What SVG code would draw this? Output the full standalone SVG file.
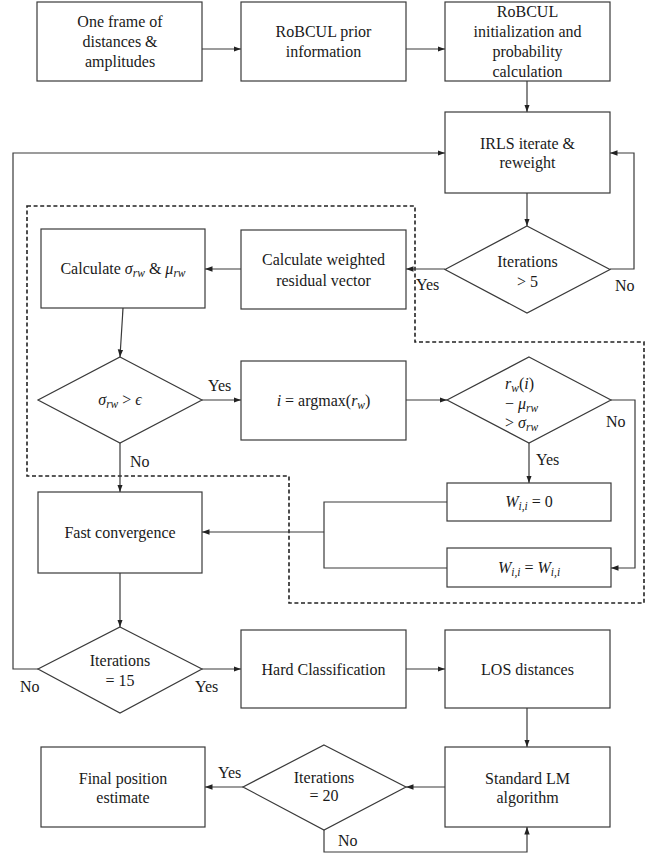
<svg xmlns="http://www.w3.org/2000/svg" width="656" height="855" viewBox="0 0 656 855" font-family="'Liberation Serif', 'Times New Roman', 'DejaVu Serif', serif">
<style>
.box{fill:#fff;stroke:#3a3a3a;stroke-width:1.2}
.c{fill:none;stroke:#3a3a3a;stroke-width:1.2}
.ca{fill:none;stroke:#3a3a3a;stroke-width:1.2;marker-end:url(#ah)}
.dash{fill:none;stroke:#222;stroke-width:1.6;stroke-dasharray:4 2.6}
text{font-family:'Liberation Serif','Times New Roman','DejaVu Serif',serif;font-size:16px;fill:#1a1a1a}
.m{text-anchor:middle}
.i{font-style:italic}
.sub{font-size:11.5px;font-style:italic}
</style>
<defs>
<marker id="ah" markerUnits="userSpaceOnUse" markerWidth="8" markerHeight="8" viewBox="0 0 8 8" refX="7.5" refY="4" orient="auto">
<path d="M0,1.3 L7.5,4 L0,6.7 Z" fill="#222"/>
</marker>
</defs>
<rect width="656" height="855" fill="#fff"/>

<path class="dash" d="M27,206 H415 V342 H644 V603 H289 V476 H27 Z"/>

<g id="connectors">
<path class="ca" d="M202,49 H241"/>
<path class="ca" d="M406,49 H445"/>
<path class="ca" d="M527,81 V112"/>
<path class="ca" d="M527,193 V226"/>
<path class="ca" d="M610,269 H634 V153 H610"/>
<path class="ca" d="M445,269 H406"/>
<path class="ca" d="M241,269 H205"/>
<path class="ca" d="M123,308 L120,357"/>
<path class="ca" d="M202,400 H241"/>
<path class="ca" d="M406,400 H447"/>
<path class="ca" d="M611,400 H635 V568 H611"/>
<path class="ca" d="M529,443 V483"/>
<path class="c" d="M447,502 H324 V568 H447"/>
<path class="ca" d="M324,532 H202"/>
<path class="ca" d="M120,443 V492"/>
<path class="ca" d="M120,573 V627"/>
<path class="ca" d="M38,669 H13 V153 H445"/>
<path class="ca" d="M202,669 H241"/>
<path class="ca" d="M406,669 H445"/>
<path class="ca" d="M527,708 V747"/>
<path class="ca" d="M445,787 H406"/>
<path class="ca" d="M243,787 H205"/>
<path class="ca" d="M324,830 V852 H527 V827"/>
<text x="416" y="290">Yes</text>
<text x="615" y="291">No</text>
<text x="208" y="391">Yes</text>
<text x="130" y="467">No</text>
<text x="606" y="427">No</text>
<text x="536" y="465">Yes</text>
<text x="20" y="692">No</text>
<text x="195" y="692">Yes</text>
<text x="218" y="778">Yes</text>
<text x="338" y="846">No</text>
</g>

<g id="n_frame">
<rect class="box" x="37" y="2" width="165" height="79"/>
<text class="m" x="120" y="27">One frame of</text>
<text class="m" x="120" y="47">distances &amp;</text>
<text class="m" x="120" y="67">amplitudes</text>
</g>

<g id="n_prior">
<rect class="box" x="241" y="2" width="165" height="79"/>
<text class="m" x="323.5" y="37">RoBCUL prior</text>
<text class="m" x="323.5" y="57">information</text>
</g>

<g id="n_init">
<rect class="box" x="445" y="2" width="165" height="79"/>
<text class="m" x="527.5" y="17">RoBCUL</text>
<text class="m" x="527.5" y="37">initialization and</text>
<text class="m" x="527.5" y="57">probability</text>
<text class="m" x="527.5" y="77">calculation</text>
</g>

<g id="n_irls">
<rect class="box" x="445" y="112" width="165" height="81"/>
<text class="m" x="527.5" y="149">IRLS iterate &amp;</text>
<text class="m" x="527.5" y="168">reweight</text>
</g>

<g id="n_iter5">
<polygon class="box" points="527,226 610,269.5 527,313 445,269.5"/>
<text class="m" x="527.5" y="267">Iterations</text>
<text class="m" x="527.5" y="287">&gt; 5</text>
</g>

<g id="n_residual">
<rect class="box" x="241" y="230" width="165" height="79"/>
<text class="m" x="323.5" y="265">Calculate weighted</text>
<text class="m" x="323.5" y="286">residual vector</text>
</g>

<g id="n_sigma">
<rect class="box" x="41" y="229" width="164" height="79"/>
<text class="m" x="123" y="274">Calculate <tspan class="i">σ</tspan><tspan class="sub" dy="3">rw</tspan><tspan dy="-3"> &amp; </tspan><tspan class="i">μ</tspan><tspan class="sub" dy="3">rw</tspan></text>
</g>

<g id="n_eps">
<polygon class="box" points="120,357 202,400 120,443 38,400"/>
<text class="m" x="120" y="405"><tspan class="i">σ</tspan><tspan class="sub" dy="3">rw</tspan><tspan dy="-3"> &gt; </tspan><tspan class="i">ϵ</tspan></text>
</g>

<g id="n_argmax">
<rect class="box" x="241" y="361" width="165" height="79"/>
<text class="m" x="323.5" y="406"><tspan class="i">i</tspan> = argmax(<tspan class="i">r</tspan><tspan class="sub" dy="3">w</tspan><tspan dy="-3">)</tspan></text>
</g>

<g id="n_outlier">
<polygon class="box" points="529,357 611,400 529,443 447,400"/>
<text x="505" y="389"><tspan class="i">r</tspan><tspan class="sub" dy="3">w</tspan><tspan dy="-3">(</tspan><tspan class="i">i</tspan>)</text>
<text x="505" y="409">− <tspan class="i">μ</tspan><tspan class="sub" dy="3">rw</tspan></text>
<text x="505" y="428">&gt; <tspan class="i">σ</tspan><tspan class="sub" dy="3">rw</tspan></text>
</g>

<g id="n_w0">
<rect class="box" x="447" y="483" width="164" height="38"/>
<text class="m" x="529" y="507"><tspan class="i">W</tspan><tspan class="sub" dy="3">i,i</tspan><tspan dy="-3"> = 0</tspan></text>
</g>

<g id="n_ww">
<rect class="box" x="447" y="548" width="164" height="39"/>
<text class="m" x="529" y="573"><tspan class="i">W</tspan><tspan class="sub" dy="3">i,i</tspan><tspan dy="-3"> = </tspan><tspan class="i">W</tspan><tspan class="sub" dy="3">i,i</tspan></text>
</g>

<g id="n_fast">
<rect class="box" x="38" y="492" width="164" height="81"/>
<text class="m" x="120" y="538">Fast convergence</text>
</g>

<g id="n_iter15">
<polygon class="box" points="120,627 202,669 120,713 38,669"/>
<text class="m" x="120" y="666">Iterations</text>
<text class="m" x="120" y="686">= 15</text>
</g>

<g id="n_hard">
<rect class="box" x="241" y="630" width="165" height="78"/>
<text class="m" x="323.5" y="675">Hard Classification</text>
</g>

<g id="n_los">
<rect class="box" x="445" y="630" width="165" height="78"/>
<text class="m" x="527.5" y="675">LOS distances</text>
</g>

<g id="n_lm">
<rect class="box" x="445" y="747" width="165" height="80"/>
<text class="m" x="527.5" y="784">Standard LM</text>
<text class="m" x="527.5" y="803">algorithm</text>
</g>

<g id="n_iter20">
<polygon class="box" points="324,745 406,787 324,830 243,787"/>
<text class="m" x="324" y="783">Iterations</text>
<text class="m" x="324" y="801">= 20</text>
</g>

<g id="n_final">
<rect class="box" x="41" y="747" width="164" height="80"/>
<text class="m" x="123" y="784">Final position</text>
<text class="m" x="123" y="803">estimate</text>
</g>
</svg>
